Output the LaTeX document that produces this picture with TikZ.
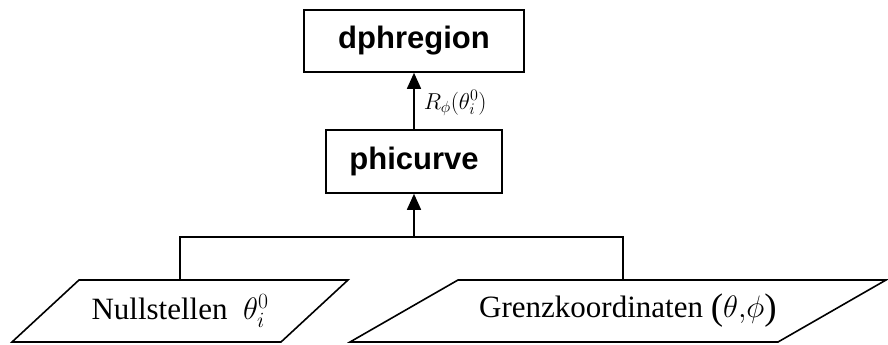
\RequirePackage{fix-cm}
\documentclass[tikz,border=0pt]{standalone}
\usepackage{fontspec}
\setmainfont{Liberation Serif}
\setsansfont{Liberation Sans}
\usetikzlibrary{arrows.meta}

% slightly enlarged round brackets around a pair of coordinates
\newcommand{\bigparen}[1]{{\fontsize{37}{40}\selectfont\raisebox{-2pt}{(}}#1{\fontsize{37}{40}\selectfont\raisebox{-2pt}{)}}}

\begin{document}
\begin{tikzpicture}[x=1pt, y=-1pt, line width=1.6pt,
  module/.style={draw, rectangle, inner sep=0pt,
    font=\sffamily\bfseries\fontsize{31}{37}\selectfont},
  flow/.style={-{Triangle[width=14pt,length=16pt]}},
  datalabel/.style={inner sep=0pt, font=\fontsize{31}{37}\selectfont},
  edgelabel/.style={inner sep=0pt, font=\fontsize{23}{27}\selectfont}]
  \useasboundingbox (0,0) rectangle (888,345);

  % processing modules
  \node[module, minimum width=220pt, minimum height=62pt] (dph) at (414,41) {dphregion};
  \node[module, minimum width=176pt, minimum height=63pt] (phi) at (414,161.5) {phicurve};

  \draw[flow] (phi.north) -- (dph.south);
  \node[edgelabel, anchor=west] (rlabel) at (423,103) {$R_{\phi}(\theta^{0}_{i})$};

  % input data (parallelograms)
  \draw (12,342) -- (79,280) coordinate (nultl) -- (348,280) coordinate (nultr)
        -- (281,342) -- cycle;
  \draw (350,342) -- (458,280) coordinate (grztl) -- (886,280) coordinate (grztr)
        -- (778,342) -- cycle;
  \node[datalabel] (nul) at (180,311) {Nullstellen\enspace$\theta_{i}^{0}$};
  \node[datalabel] (grz) at (628,311) {Grenzkoordinaten \bigparen{$\theta{,}\phi$}};

  % joining the inputs
  \coordinate (nultop) at (180,280);
  \coordinate (grztop) at (623,280);
  \coordinate (join) at (414,237);
  \draw (nultop) |- (join) -| (grztop);
  \draw[flow] (join) -- (phi.south);
\end{tikzpicture}
\end{document}
